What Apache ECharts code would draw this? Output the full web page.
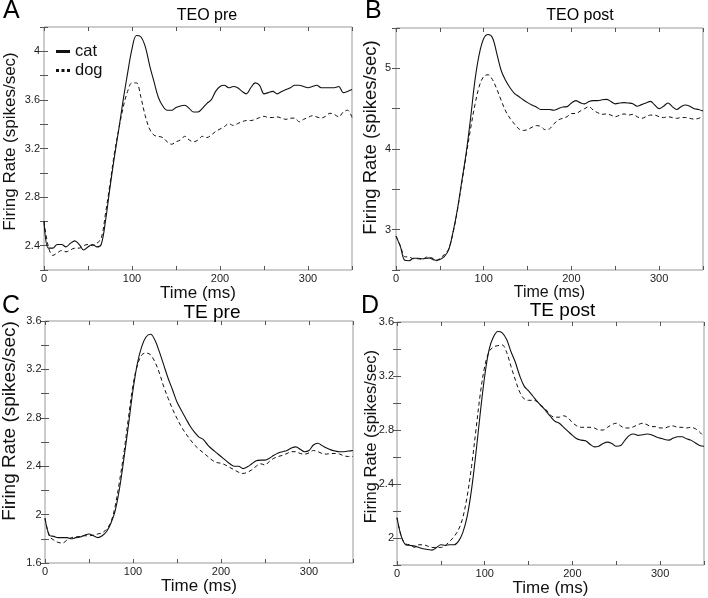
<!DOCTYPE html>
<html>
<head>
<meta charset="utf-8">
<script src="https://cdn.jsdelivr.net/npm/echarts@6/dist/echarts.min.js"></script>
<style>
html,body{margin:0;padding:0;background:#fff;}
#main{width:708px;height:598px;}
</style>
</head>
<body>
<div id="main"></div>
<script>
// time axis (ms), one sample every 5 ms
const times = [
  0, 5, 10, 15, 20, 25, 30, 35, 40, 45,
  50, 55, 60, 65, 70, 75, 80, 85, 90, 95,
  100, 105, 110, 115, 120, 125, 130, 135, 140, 145,
  150, 155, 160, 165, 170, 175, 180, 185, 190, 195,
  200, 205, 210, 215, 220, 225, 230, 235, 240, 245,
  250, 255, 260, 265, 270, 275, 280, 285, 290, 295,
  300, 305, 310, 315, 320, 325, 330, 335, 340, 345,
  350
];

// A - TEO pre
const teoPreCat = [
  2.60, 2.38, 2.38, 2.41, 2.41, 2.39, 2.42, 2.44, 2.41, 2.365,
  2.39, 2.41, 2.39, 2.41, 2.61, 2.88, 3.13, 3.36, 3.60, 3.82,
  4.02, 4.13, 4.12, 4.04, 3.885, 3.75, 3.62, 3.55, 3.515, 3.515,
  3.537, 3.55, 3.556, 3.53, 3.50, 3.50, 3.53, 3.57, 3.60, 3.67,
  3.71, 3.72, 3.70, 3.71, 3.70, 3.67, 3.65, 3.70, 3.74, 3.72,
  3.65, 3.66, 3.67, 3.65, 3.67, 3.685, 3.70, 3.72, 3.72, 3.71,
  3.70, 3.71, 3.72, 3.70, 3.70, 3.70, 3.70, 3.71, 3.66, 3.67,
  3.685
];
const teoPreDog = [
  2.60, 2.39, 2.32, 2.34, 2.36, 2.35, 2.365, 2.38, 2.38, 2.40,
  2.41, 2.40, 2.42, 2.46, 2.67, 2.91, 3.16, 3.36, 3.54, 3.67,
  3.74, 3.74, 3.625, 3.47, 3.36, 3.31, 3.30, 3.29, 3.255, 3.235,
  3.255, 3.27, 3.30, 3.27, 3.255, 3.27, 3.30, 3.29, 3.31, 3.34,
  3.36, 3.38, 3.405, 3.39, 3.405, 3.42, 3.43, 3.43, 3.44, 3.455,
  3.465, 3.455, 3.455, 3.46, 3.45, 3.44, 3.45, 3.45, 3.42, 3.44,
  3.455, 3.47, 3.46, 3.45, 3.465, 3.49, 3.48, 3.46, 3.50, 3.515,
  3.455
];

// B - TEO post
const teoPostCat = [
  2.92, 2.79, 2.62, 2.615, 2.645, 2.645, 2.64, 2.645, 2.65, 2.62,
  2.63, 2.665, 2.75, 2.97, 3.25, 3.60, 3.95, 4.38, 4.85, 5.18,
  5.37, 5.42, 5.38, 5.18, 4.97, 4.85, 4.76, 4.69, 4.65, 4.61,
  4.575, 4.545, 4.52, 4.49, 4.49, 4.49, 4.48, 4.50, 4.52, 4.525,
  4.57, 4.60, 4.575, 4.56, 4.59, 4.60, 4.60, 4.61, 4.615, 4.59,
  4.56, 4.57, 4.575, 4.57, 4.56, 4.53, 4.55, 4.57, 4.59, 4.545,
  4.50, 4.53, 4.57, 4.525, 4.49, 4.525, 4.545, 4.53, 4.50, 4.49,
  4.47
];
const teoPostDog = [
  2.92, 2.80, 2.665, 2.66, 2.64, 2.64, 2.63, 2.66, 2.64, 2.61,
  2.645, 2.69, 2.76, 2.96, 3.24, 3.58, 3.92, 4.25, 4.55, 4.78,
  4.90, 4.92, 4.86, 4.74, 4.60, 4.47, 4.38, 4.31, 4.25, 4.23,
  4.24, 4.27, 4.29, 4.28, 4.24, 4.25, 4.31, 4.36, 4.38, 4.40,
  4.44, 4.44, 4.47, 4.50, 4.525, 4.48, 4.45, 4.43, 4.435, 4.42,
  4.40, 4.42, 4.435, 4.42, 4.43, 4.40, 4.38, 4.40, 4.42, 4.42,
  4.40, 4.39, 4.40, 4.39, 4.38, 4.39, 4.39, 4.38, 4.37, 4.38,
  4.40
];

// C - TE pre
const tePreCat = [
  1.97, 1.83, 1.82, 1.81, 1.81, 1.81, 1.80, 1.81, 1.815, 1.83,
  1.84, 1.825, 1.81, 1.825, 1.86, 1.93, 2.04, 2.23, 2.48, 2.75,
  3.03, 3.25, 3.39, 3.47, 3.49, 3.44, 3.345, 3.235, 3.125, 3.03,
  2.93, 2.86, 2.795, 2.73, 2.68, 2.64, 2.62, 2.575, 2.54, 2.51,
  2.48, 2.45, 2.42, 2.40, 2.40, 2.38, 2.395, 2.42, 2.445, 2.45,
  2.45, 2.465, 2.49, 2.51, 2.52, 2.53, 2.55, 2.56, 2.54, 2.52,
  2.53, 2.575, 2.59, 2.57, 2.55, 2.535, 2.525, 2.52, 2.52, 2.525,
  2.53
];
const tePreDog = [
  1.97, 1.82, 1.79, 1.77, 1.765, 1.79, 1.81, 1.815, 1.82, 1.825,
  1.825, 1.83, 1.84, 1.85, 1.88, 1.94, 2.08, 2.29, 2.53, 2.81,
  3.07, 3.235, 3.32, 3.335, 3.32, 3.26, 3.17, 3.055, 2.96, 2.87,
  2.795, 2.725, 2.67, 2.62, 2.575, 2.54, 2.51, 2.48, 2.45, 2.43,
  2.425, 2.41, 2.39, 2.37, 2.35, 2.34, 2.35, 2.37, 2.40, 2.42,
  2.41, 2.44, 2.465, 2.48, 2.49, 2.505, 2.52, 2.52, 2.505, 2.50,
  2.51, 2.53, 2.52, 2.505, 2.50, 2.505, 2.505, 2.50, 2.485, 2.48,
  2.48
];

// D - TE post
const tePostCat = [
  2.15, 2.01, 1.95, 1.945, 1.94, 1.93, 1.92, 1.915, 1.91, 1.93,
  1.95, 1.945, 1.95, 1.95, 1.975, 2.04, 2.16, 2.36, 2.63, 2.93,
  3.20, 3.395, 3.49, 3.53, 3.52, 3.47, 3.38, 3.30, 3.20, 3.125,
  3.09, 3.05, 3.01, 2.975, 2.94, 2.90, 2.865, 2.85, 2.82, 2.79,
  2.76, 2.735, 2.725, 2.72, 2.695, 2.675, 2.68, 2.70, 2.71, 2.70,
  2.68, 2.685, 2.725, 2.76, 2.77, 2.76, 2.765, 2.77, 2.765, 2.75,
  2.74, 2.73, 2.725, 2.74, 2.75, 2.75, 2.735, 2.725, 2.705, 2.685,
  2.68
];
const tePostDog = [
  2.15, 2.01, 1.955, 1.95, 1.93, 1.95, 1.95, 1.94, 1.93, 1.93,
  1.93, 1.945, 1.975, 2.01, 2.06, 2.15, 2.31, 2.53, 2.80, 3.07,
  3.27, 3.38, 3.415, 3.425, 3.43, 3.375, 3.27, 3.17, 3.08, 3.03,
  3.02, 3.02, 3.01, 2.98, 2.95, 2.91, 2.895, 2.895, 2.905, 2.89,
  2.855, 2.83, 2.82, 2.82, 2.82, 2.815, 2.80, 2.80, 2.82, 2.84,
  2.85, 2.83, 2.815, 2.815, 2.825, 2.84, 2.85, 2.84, 2.825, 2.825,
  2.815, 2.815, 2.825, 2.83, 2.82, 2.82, 2.815, 2.82, 2.81, 2.785,
  2.75
];

// tick labels
const timeTicks = [0, 100, 200, 300];
const teoPreTicks = [2.4, 2.8, 3.2, 3.6, 4];
const teoPostTicks = [3, 4, 5];
const tePreTicks = [1.6, 2, 2.4, 2.8, 3.2, 3.6];
const tePostTicks = [2, 2.4, 2.8, 3.2, 3.6];

const FONT = "'Liberation Sans', Arial, Helvetica, sans-serif";

const panels = [
  { letter: 'A', title: 'TEO pre', cat: teoPreCat, dog: teoPreDog, ticks: teoPreTicks,
    grid: { left: 44, top: 27, width: 308, height: 243 }, y: [2.2, 4.2, 0.2],
    titlePos: [207, 16, 16], letterPos: [3, 11], yName: [10, 141.5, 17], xNameSize: 17, yMargin: 4 },
  { letter: 'B', title: 'TEO post', cat: teoPostCat, dog: teoPostDog, ticks: teoPostTicks,
    grid: { left: 396, top: 28, width: 307, height: 242 }, y: [2.5, 5.5, 0.5],
    titlePos: [580, 16, 16], letterPos: [365, 11], yName: [371, 137.5, 18.5], xNameSize: 16, yMargin: 5 },
  { letter: 'C', title: 'TE pre', cat: tePreCat, dog: tePreDog, ticks: tePreTicks,
    grid: { left: 45, top: 321, width: 308, height: 242 }, y: [1.6, 3.6, 0.2],
    titlePos: [212, 312.5, 19], letterPos: [2, 306], yName: [10, 421, 19], xNameSize: 17, yMargin: 3.5 },
  { letter: 'D', title: 'TE post', cat: tePostCat, dog: tePostDog, ticks: tePostTicks,
    grid: { left: 397, top: 322, width: 307, height: 243 }, y: [1.8, 3.6, 0.2],
    titlePos: [562.5, 310.5, 19], letterPos: [361, 306], yName: [371, 436.7, 16.5], xNameSize: 17, yMargin: 3 }
];

function pickLabel(list) {
  return function (v) {
    const hit = list.find(t => Math.abs(t - v) < 1e-6);
    return hit === undefined ? '' : String(hit);
  };
}

const tick = { show: true, inside: true, length: 4, lineStyle: { color: '#555', width: 1 } };

const grids = [], xAxes = [], yAxes = [], series = [], graphics = [];

panels.forEach((p, i) => {
  grids.push(Object.assign({ show: true, borderColor: '#999', borderWidth: 1, backgroundColor: '#fff' }, p.grid));

  xAxes.push({
    gridIndex: i, type: 'value', min: 0, max: 350, interval: 50, position: 'bottom',
    axisLine: { show: false }, axisTick: tick, splitLine: { show: false },
    axisLabel: { formatter: pickLabel(timeTicks), fontSize: 11, color: '#222', margin: 3 },
    name: 'Time (ms)', nameLocation: 'middle', nameGap: 9,
    nameTextStyle: { fontSize: p.xNameSize, color: '#111' }
  });
  xAxes.push({
    gridIndex: i, type: 'value', min: 0, max: 350, interval: 50, position: 'top',
    axisLine: { show: false }, axisTick: tick, splitLine: { show: false }, axisLabel: { show: false }
  });
  yAxes.push({
    gridIndex: i, type: 'value', min: p.y[0], max: p.y[1], interval: p.y[2], position: 'left',
    axisLine: { show: false }, axisTick: tick, splitLine: { show: false },
    axisLabel: { formatter: pickLabel(p.ticks), fontSize: 11, color: '#222', margin: p.yMargin }
  });
  yAxes.push({
    gridIndex: i, type: 'value', min: p.y[0], max: p.y[1], interval: p.y[2], position: 'right',
    axisLine: { show: false }, axisTick: tick, splitLine: { show: false }, axisLabel: { show: false }
  });

  series.push({
    name: 'cat', type: 'line', xAxisIndex: 2 * i, yAxisIndex: 2 * i,
    data: times.map((t, k) => [t, p.cat[k]]),
    symbol: 'none', smooth: 0.35, animation: false,
    lineStyle: { color: '#111', width: 1.1, type: 'solid' }, itemStyle: { color: '#111' }
  });
  series.push({
    name: 'dog', type: 'line', xAxisIndex: 2 * i, yAxisIndex: 2 * i,
    data: times.map((t, k) => [t, p.dog[k]]),
    symbol: 'none', smooth: 0.35, animation: false,
    lineStyle: { color: '#111', width: 1, type: [4, 3] }, itemStyle: { color: '#111' }
  });

  graphics.push({
    type: 'text', x: p.letterPos[0], y: p.letterPos[1],
    style: { text: p.letter, font: '25px ' + FONT, fill: '#000', align: 'left', verticalAlign: 'middle' }
  });
  graphics.push({
    type: 'text', x: p.titlePos[0], y: p.titlePos[1],
    style: { text: p.title, font: p.titlePos[2] + 'px ' + FONT, fill: '#000', align: 'center', verticalAlign: 'middle' }
  });
  graphics.push({
    type: 'text', x: p.yName[0], y: p.yName[1], rotation: Math.PI / 2,
    style: { text: 'Firing Rate (spikes/sec)', font: p.yName[2] + 'px ' + FONT, fill: '#111', align: 'center', verticalAlign: 'middle' }
  });
});

const chart = echarts.init(document.getElementById('main'));
chart.setOption({
  animation: false,
  backgroundColor: '#fff',
  textStyle: { fontFamily: FONT },
  grid: grids,
  xAxis: xAxes,
  yAxis: yAxes,
  legend: {
    data: [
      { name: 'cat', icon: 'rect' },
      { name: 'dog', icon: 'path://M0,0H3V3H0Z M5.5,0H8.5V3H5.5Z M11,0H14V3H11Z' }
    ],
    orient: 'vertical', left: 51, top: 38, itemWidth: 14, itemHeight: 3, itemGap: 2,
    itemStyle: { color: '#111' },
    textStyle: { fontSize: 16.5, color: '#111' }
  },
  series: series,
  graphic: graphics
});
window.addEventListener('resize', () => chart.resize());
</script>
</body>
</html>
